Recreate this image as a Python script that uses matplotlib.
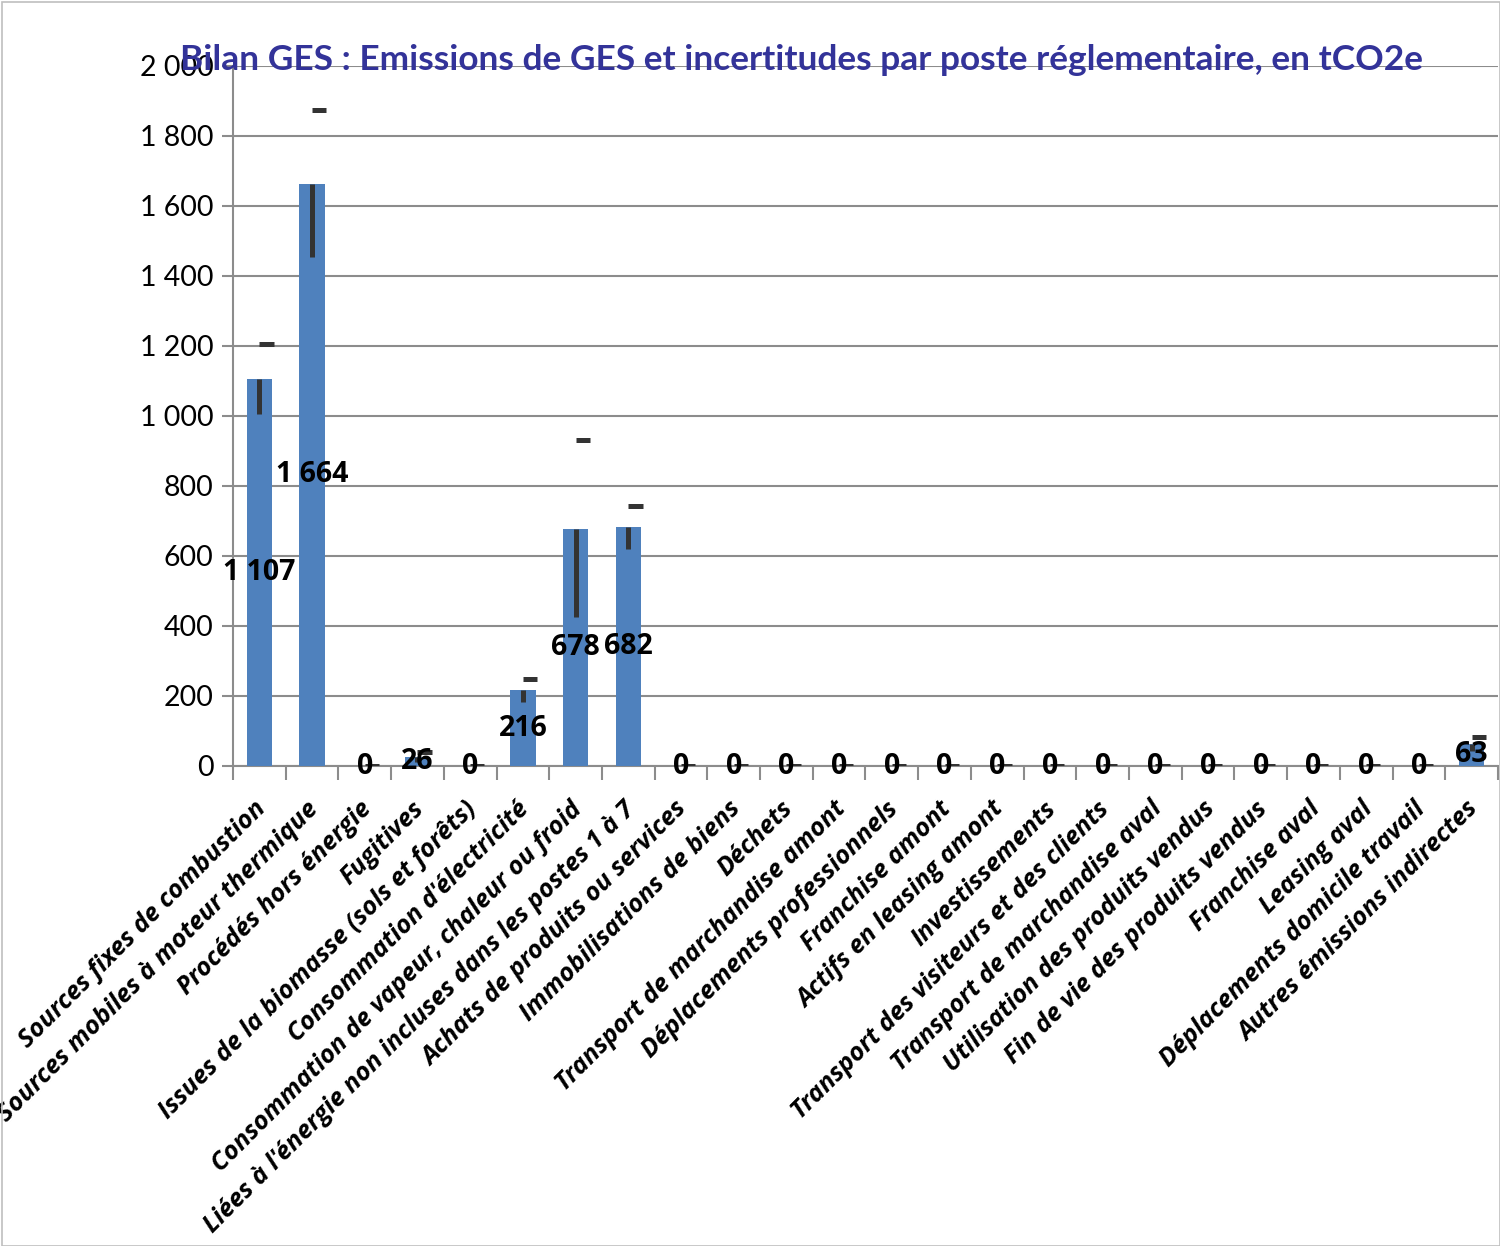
import matplotlib
matplotlib.use("Agg")
import matplotlib.pyplot as plt
from matplotlib.patches import Rectangle
from matplotlib.transforms import ScaledTranslation
import numpy as np

categories = [
    "Sources fixes de combustion",
    "Sources mobiles à moteur thermique",
    "Procédés hors énergie",
    "Fugitives",
    "Issues de la biomasse (sols et forêts)",
    "Consommation d'électricité",
    "Consommation de vapeur, chaleur ou froid",
    "Liées à l'énergie non incluses dans les postes 1 à 7",
    "Achats de produits ou services",
    "Immobilisations de biens",
    "Déchets",
    "Transport de marchandise amont",
    "Déplacements professionnels",
    "Franchise amont",
    "Actifs en leasing amont",
    "Investissements",
    "Transport des visiteurs et des clients",
    "Transport de marchandise aval",
    "Utilisation des produits vendus",
    "Fin de vie des produits vendus",
    "Franchise aval",
    "Leasing aval",
    "Déplacements domicile travail",
    "Autres émissions indirectes",
]
values = [1107, 1664, 0, 26, 0, 216, 678, 682, 0, 0, 0, 0, 0, 0, 0, 0, 0, 0, 0, 0, 0, 0, 0, 63]
uncert = [100, 210, 0, 14, 0, 34, 252, 61, 0, 0, 0, 0, 0, 0, 0, 0, 0, 0, 0, 0, 0, 0, 0, 20]
yticks = [0, 200, 400, 600, 800, 1000, 1200, 1400, 1600, 1800, 2000]
title = "Bilan GES : Emissions de GES et incertitudes par poste réglementaire, en tCO2e"

def fmt(v):
    return f"{v:,}".replace(",", " ")

W, H = 1500, 1246
fig = plt.figure(figsize=(W / 100, H / 100), dpi=100)
fig.patch.set_facecolor("white")
ax = fig.add_axes([233 / W, 1 - 766 / H, (1498 - 233) / W, (766 - 66) / H])

n = len(categories)
x = np.arange(n)
bar_color = "#4F81BD"
grid_color = "#8C8C8C"

ax.bar(x, values, width=0.48, color=bar_color, zorder=2)
ax.set_xlim(-0.5, n - 0.5)
ax.set_ylim(0, 2000)

# error bars: lower line + upper cap dash
v = np.array(values, dtype=float)
e = np.array(uncert, dtype=float)
ax.vlines(x, v - e, v, color="#333333", lw=3.6, zorder=3)
ax.hlines(v + e, x, x + 0.27, color="#333333", lw=3.6, zorder=3)

# value labels
for xi, vi in zip(x, values):
    ax.text(xi, vi / 2, fmt(vi), ha="center", va="center", fontsize=20.5,
            fontweight="bold", family="Open Sans", color="black", zorder=4)

# axes styling
ax.yaxis.grid(True, color=grid_color, lw=1.5, zorder=0)
ax.set_axisbelow(True)
for s in ["top", "right"]:
    ax.spines[s].set_visible(False)
for s in ["left", "bottom"]:
    ax.spines[s].set_color(grid_color)
    ax.spines[s].set_linewidth(1.5)
    ax.spines[s].set_zorder(1)

ax.set_yticks(yticks)
ax.set_yticklabels([fmt(t) for t in yticks], fontsize=20.5, family="Lato")
ax.tick_params(axis="y", length=8, width=1.5, color=grid_color, pad=6)

ax.set_xticks(x)
ax.set_xticks(np.arange(n + 1) - 0.5, minor=True)
ax.tick_params(axis="x", which="major", length=0, pad=22)
ax.tick_params(axis="x", which="minor", length=10, width=1.5, color=grid_color)
ax.set_xticklabels(categories, rotation=45, ha="right", rotation_mode="anchor",
                   fontsize=18.3, fontweight="bold", family="Open Sans",
                   style="italic")
shift = ScaledTranslation(-6 / 100, 0, fig.dpi_scale_trans)
for lab in ax.get_xticklabels():
    lab.set_transform(lab.get_transform() + shift)

fig.text(801 / W, 1 - 60 / H, title, ha="center", va="center", fontsize=25.4,
         fontweight="bold", color="#333399", family="Lato", zorder=10)

fig.patches.append(Rectangle((2 / W, 0), 1 - 2 / W, 1 - 2 / H, transform=fig.transFigure,
                             fill=False, edgecolor="#BFBFBF", lw=1.2))

fig.savefig("out.png", dpi=100)
